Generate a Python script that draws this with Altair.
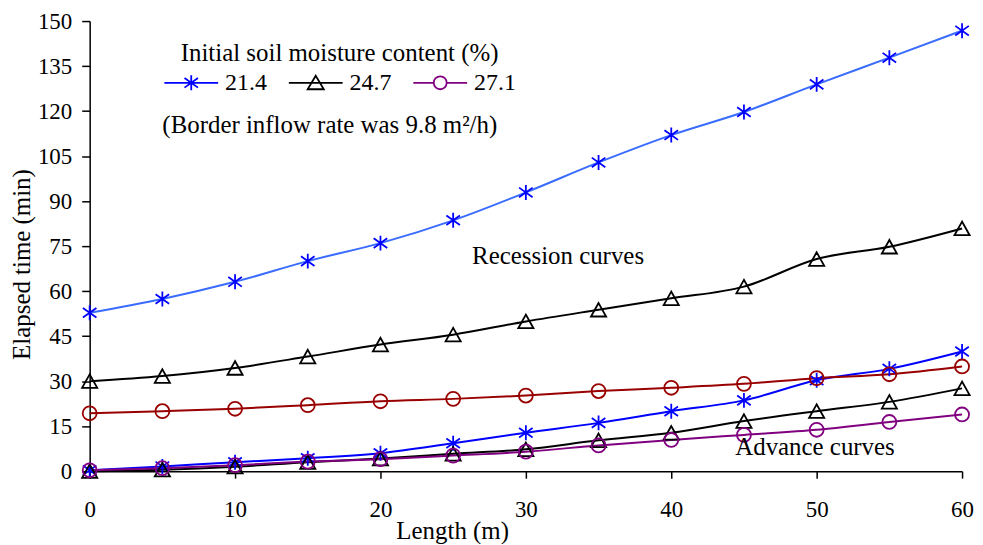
import altair as alt
import pandas as pd

# ---- data ----
length_m = [0, 5, 10, 15, 20, 25, 30, 35, 40, 45, 50, 55, 60]
moisture_levels = ["21.4", "24.7", "27.1"]

recession = {
    "21.4": [52.8, 57.4, 63.1, 70.0, 76.0, 83.6, 92.9, 102.9, 112.0, 119.7, 128.9, 137.8, 146.8],
    "24.7": [30.0, 31.7, 34.4, 38.2, 42.2, 45.5, 49.9, 53.8, 57.6, 61.5, 70.7, 74.8, 80.9],
    "27.1": [19.3, 20.0, 20.8, 22.0, 23.3, 24.1, 25.2, 26.7, 27.8, 29.1, 31.0, 32.3, 34.9],
}
advance = {
    "21.4": [0.3, 1.6, 3.0, 4.3, 6.0, 9.3, 12.8, 16.1, 20.0, 23.6, 30.3, 34.1, 39.9],
    "24.7": [0.0, 0.5, 1.5, 3.0, 4.2, 5.8, 7.3, 10.3, 12.8, 16.7, 20.0, 23.1, 27.6],
    "27.1": [0.3, 1.0, 2.0, 3.2, 4.0, 5.2, 6.5, 8.6, 10.4, 12.1, 13.8, 16.4, 18.9],
}

x_ticks = [0, 10, 20, 30, 40, 50, 60]
y_ticks = [0, 15, 30, 45, 60, 75, 90, 105, 120, 135, 150]

note_text = ["(Border inflow rate was 9.8 m\u00b2/h)", "Recession curves", "Advance curves"]
note_x = [5.0, 26.3, 44.4]
note_y = [115.2, 71.7, 8.0]

legend_title = "Initial soil moisture content (%)"

# ---- build tables ----
rows = []
for m in moisture_levels:
    for curve, src in (("Recession", recession), ("Advance", advance)):
        for xv, tv in zip(length_m, src[m]):
            rows.append({"length": xv, "time": tv, "moisture": m,
                         "series": f"{curve} {m}"})
df = pd.DataFrame(rows)
notes = pd.DataFrame({"text": note_text, "length": note_x, "time": note_y})

series_domain = [f"{c} {m}" for m in moisture_levels for c in ("Recession", "Advance")]
line_colors = ["#3a6cff", "#0000ff", "#000000", "#000000", "#990000", "#800080"]
marker_colors = ["#0000ff", "#0000ff", "#000000", "#000000", "#990000", "#800080"]
legend_colors = ["#0000ff", "#000000", "#800080"]

marker_paths = [
    "M0,-0.94L0,0.94M-0.85,-0.6L0.85,0.6M-0.85,0.6L0.85,-0.6",
    "M0,-0.85L-0.95,0.85L0.95,0.85Z",
    "M0.875,0A0.875,0.875 0 1,1 -0.875,0A0.875,0.875 0 1,1 0.875,0Z",
]
legend_paths = [
    "M-1,0L1,0M0,-0.28L0,0.28M-0.25,-0.18L0.25,0.18M-0.25,0.18L0.25,-0.18",
    "M-1,0L1,0M0,-0.26L-0.3,0.24L0.3,0.24Z",
    "M-1,0L-0.24,0M0.24,0L1,0M0.24,0A0.24,0.24 0 1,1 -0.24,0A0.24,0.24 0 1,1 0.24,0Z",
]

FONT = "Liberation Serif, Times New Roman, serif"

x_enc = alt.X("length:Q",
              scale=alt.Scale(domain=[0, 60], nice=False, zero=False),
              axis=alt.Axis(values=x_ticks, title="Length (m)", tickSize=7,
                            labelPadding=20, labelFlush=False, titleX=364, titleY=48,
                            titleAnchor="start", titleAlign="center",
                            titleBaseline="top"))
y_enc = alt.Y("time:Q",
              scale=alt.Scale(domain=[0, 150], nice=False),
              axis=alt.Axis(values=y_ticks, title="Elapsed time (min)", tickSize=8,
                            labelPadding=10, labelFlush=False, titleAngle=-90,
                            titleX=-68, titleY=244,
                            titleAlign="center", titleBaseline="middle"))

base = alt.Chart(df)

lines = base.mark_line(interpolate="monotone", strokeWidth=2).encode(
    x=x_enc, y=y_enc,
    color=alt.Color("series:N", scale=alt.Scale(domain=series_domain, range=line_colors), legend=None),
    detail="series:N",
)

points = base.mark_point(filled=False, size=256, strokeWidth=1.8, opacity=1).encode(
    x=x_enc, y=y_enc,
    color=alt.Color("series:N", scale=alt.Scale(domain=series_domain, range=marker_colors), legend=None),
    shape=alt.Shape("moisture:N", scale=alt.Scale(domain=moisture_levels, range=marker_paths), legend=None),
)

leg = alt.Legend(
    orient="none", legendX=74, legendY=20, direction="horizontal",
    title=legend_title, titleFont=FONT, titleFontSize=25, titleFontWeight="normal",
    titleColor="black", titleAnchor="middle", titlePadding=-11, titleLimit=800,
    labelFont=FONT, labelFontSize=24, labelColor="black", labelOffset=6,
    symbolSize=2916, symbolStrokeWidth=1.8, symbolOpacity=1, columnPadding=18,
    padding=0,
)

legend_layer = base.transform_filter("false").mark_point(filled=False, strokeWidth=1.8).encode(
    x=x_enc, y=y_enc,
    color=alt.Color("moisture:N", scale=alt.Scale(domain=moisture_levels, range=legend_colors),
                    legend=leg, title=legend_title),
    shape=alt.Shape("moisture:N", scale=alt.Scale(domain=moisture_levels, range=legend_paths),
                    legend=leg, title=legend_title),
)

texts = alt.Chart(notes).mark_text(align="left", baseline="middle", font=FONT,
                                   fontSize=25, color="black").encode(
    x=alt.X("length:Q"), y=alt.Y("time:Q"), text="text:N")

chart = alt.layer(lines, points, legend_layer, texts).resolve_scale(
    color="independent", shape="independent"
).properties(
    width=876, height=452,
    autosize=alt.AutoSizeParams(type="none"),
    padding={"left": 82, "top": 12, "right": 13, "bottom": 72},
).configure_view(stroke=None).configure_axis(
    grid=False, domainColor="black", domainWidth=1.5, tickColor="black", tickWidth=1.5,
    labelFont=FONT, labelFontSize=23, labelColor="black",
    titleFont=FONT, titleFontSize=25, titleFontWeight="normal", titleColor="black",
).configure_legend(
    titleFont=FONT, labelFont=FONT, titleFontSize=25, labelFontSize=24,
    titleFontWeight="normal", titleLimit=800, labelColor="black", titleColor="black",
).configure_text(font=FONT)

chart.save("out.html", embed_options={"renderer": "svg", "actions": False})
